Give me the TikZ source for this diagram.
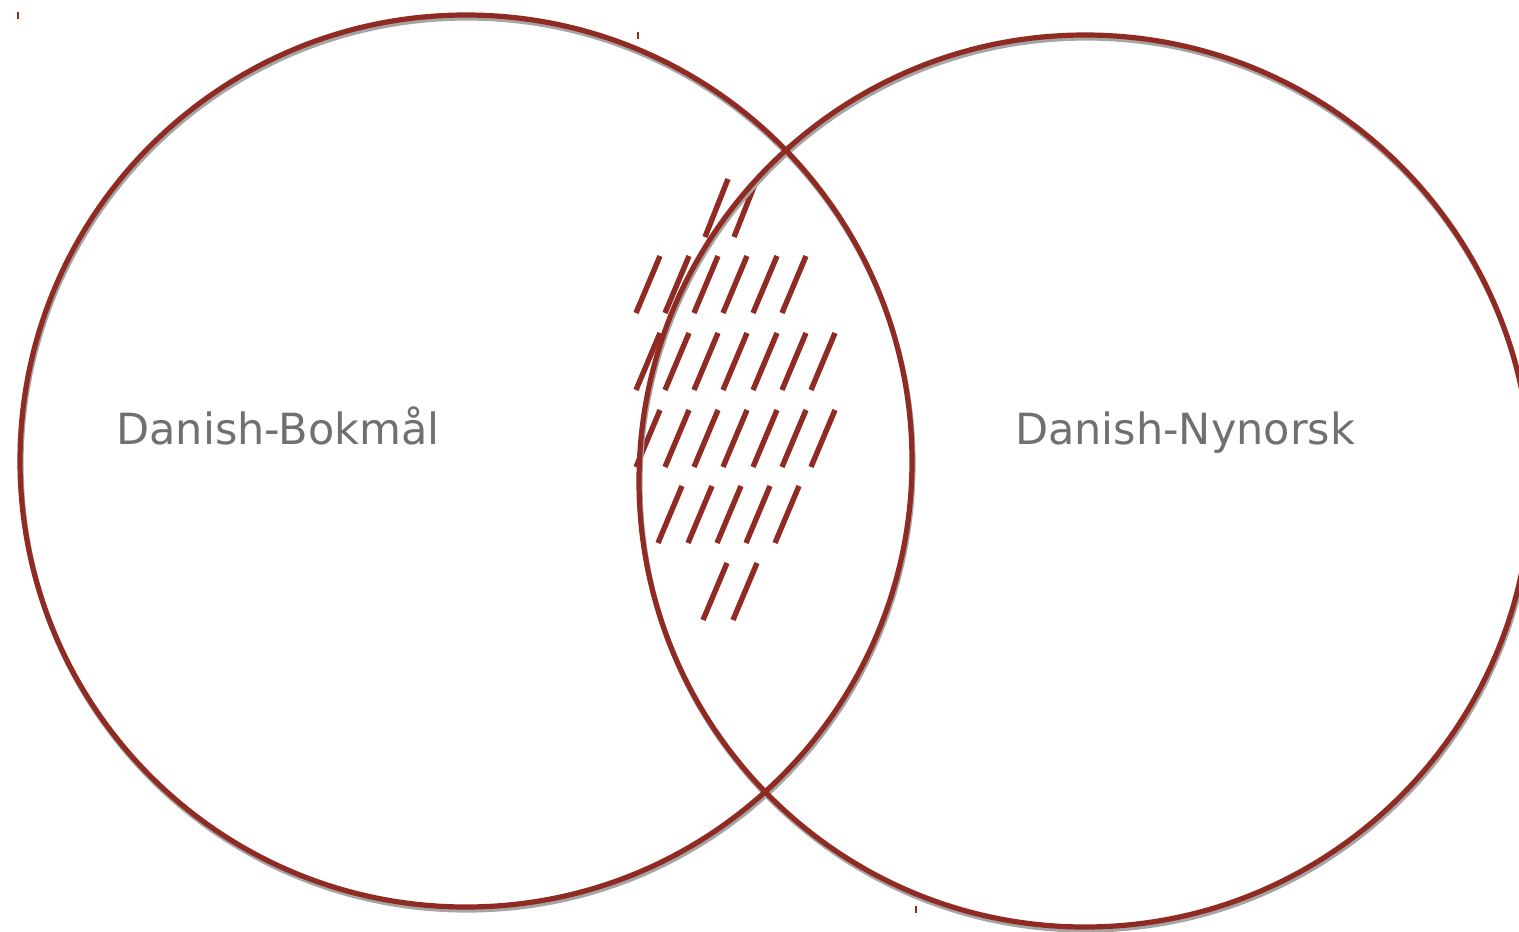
\documentclass[tikz,border=0pt]{standalone}
\usepackage{fontspec}
\setmainfont{DejaVu Sans}
\definecolor{venn}{RGB}{143,43,34}
\definecolor{shade}{RGB}{165,165,165}
\definecolor{lbl}{RGB}{112,112,112}
\begin{document}
\begin{tikzpicture}[x=1pt,y=-1pt,
  ring/.style={circle,draw=venn,line width=5.2pt,minimum size=892pt,inner sep=0pt},
  ringshadow/.style={circle,draw=shade,line width=5.2pt,minimum size=892pt,inner sep=0pt},
  hatchline/.style={draw=venn,line width=5.4pt},
  tick/.style={draw=venn,line width=1.6pt},
  setlabel/.style={text=lbl,font=\fontsize{43}{50}\selectfont,inner sep=0pt,anchor=base}]
\useasboundingbox (0,0) rectangle (1519,932);
% hatching in the overlap
\foreach \x in {705,734} {\draw[hatchline] (\x,237) -- ++(23,-58);}
\foreach \x in {636,665,694,723,753,782} {\draw[hatchline] (\x,313) -- ++(24,-57);}
\foreach \x in {636,665,694,723,753,782,811} {\draw[hatchline] (\x,390) -- ++(24,-57);}
\foreach \x in {636,665,694,723,753,782,811} {\draw[hatchline] (\x,467) -- ++(24,-57);}
\foreach \x in {658,688,717,746,775} {\draw[hatchline] (\x,543) -- ++(24,-57);}
\foreach \x in {703,733} {\draw[hatchline] (\x,620) -- ++(24,-57);}
% shadows
\node[ringshadow] (Ls) at (467,464) {};
\node[ringshadow] (Rs) at (1086,484) {};
% circles
\node[ring] (L) at (466,461) {};
\node[ring] (R) at (1085,481) {};
% labels
\node[setlabel] (bok) at (278,444) {Danish-Bokmål};
\node[setlabel] (nyn) at (1185,444) {Danish-Nynorsk};
% small tick marks
\coordinate (t1) at (18,12); \coordinate (t1e) at (18,19);
\coordinate (t2) at (638,32); \coordinate (t2e) at (638,39);
\coordinate (t3) at (916,906); \coordinate (t3e) at (916,913);
\draw[tick] (t1) -- (t1e);
\draw[tick] (t2) -- (t2e);
\draw[tick] (t3) -- (t3e);
\end{tikzpicture}
\end{document}
